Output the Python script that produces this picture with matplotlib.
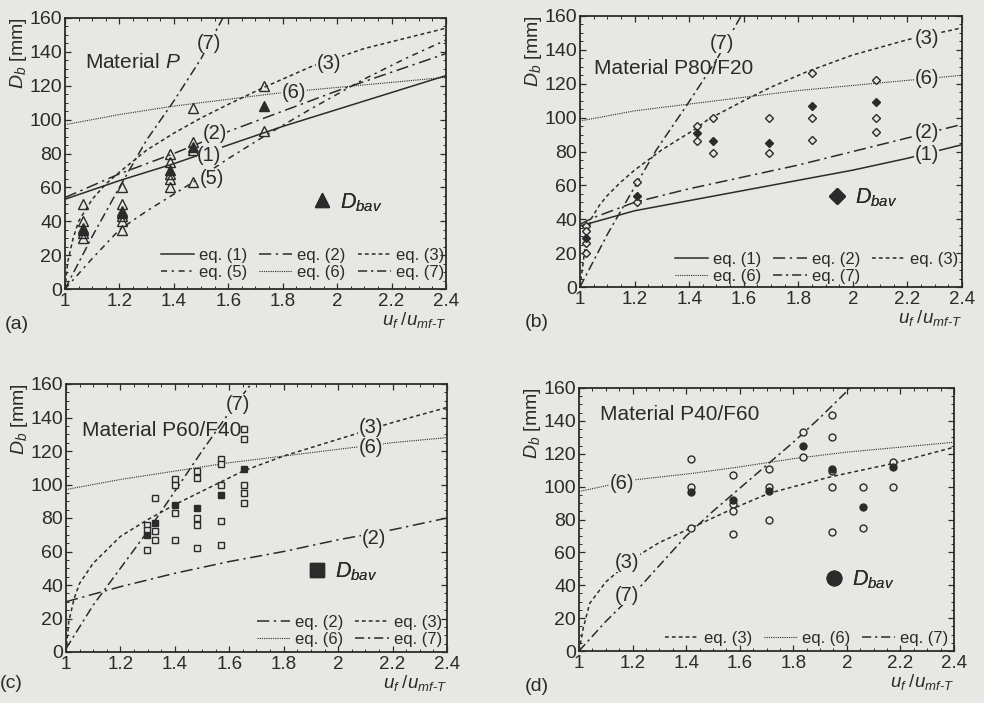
import matplotlib
matplotlib.use("Agg")
import matplotlib.pyplot as plt
from matplotlib.lines import Line2D
from matplotlib.ticker import AutoMinorLocator

plt.rcParams['font.family'] = ['Liberation Sans', 'DejaVu Sans']
plt.rcParams['mathtext.fontset'] = 'custom'
plt.rcParams['mathtext.rm'] = 'Liberation Sans'
plt.rcParams['mathtext.it'] = 'Liberation Sans:italic'
plt.rcParams['mathtext.bf'] = 'Liberation Sans:bold'

BG = '#e7e7e4'
INK = '#2b2b2b'

# ---------------- Panel (a): Material P ----------------
A_X_GRID = [1.0, 1.2, 1.4, 1.6, 1.8, 2.0, 2.2, 2.4]
A_EQ1 = [53, 64, 74, 85, 96, 106, 116, 126]
A_EQ2 = [54, 68, 80, 93, 105, 117, 128, 139]
A_EQ6 = [97, 103, 108, 112, 116, 119, 122, 125]
A_EQ3_X = [1.0, 1.01, 1.03, 1.05, 1.1, 1.15, 1.2, 1.3, 1.4, 1.5, 1.6, 1.73, 1.9, 2.1, 2.25, 2.4]
A_EQ3_Y = [0, 16, 30, 40, 53, 62, 69, 82, 92, 101, 109, 119, 131, 142, 148, 154]
A_EQ5_X = [1.0, 1.05, 1.1, 1.2, 1.3, 1.4, 1.47, 1.6, 1.73, 1.9, 2.1, 2.25, 2.4]
A_EQ5_Y = [0, 9, 18, 35, 46, 56, 63, 77, 90, 106, 124, 136, 147]
A_EQ7_X = [1.0, 1.1, 1.2, 1.3, 1.4, 1.5, 1.58]
A_EQ7_Y = [0, 31, 60, 88, 111, 136, 160]
A_OPEN_X = [1.067, 1.067, 1.067, 1.067, 1.067,
            1.208, 1.208, 1.208, 1.208, 1.208, 1.208,
            1.386, 1.386, 1.386, 1.386, 1.386,
            1.47, 1.47, 1.47, 1.47,
            1.73, 1.73]
A_OPEN_Y = [50, 40, 36, 33, 30,
            60, 50, 46, 43, 40, 35,
            80, 75, 68, 65, 60,
            107, 87, 82, 63,
            120, 93]
A_BAV_X = [1.067, 1.208, 1.386, 1.47, 1.73]
A_BAV_Y = [35, 45, 70, 84, 108]

# ---------------- Panel (b): Material P80/F20 ----------------
B_X_GRID = [1.0, 1.2, 1.4, 1.6, 1.8, 2.0, 2.2, 2.4]
B_EQ1 = [36, 45, 51, 57, 63, 69, 76, 84]
B_EQ6 = [98, 104, 108, 112, 116, 119, 122, 125]
B_EQ2_X = [1.0, 1.05, 1.2, 1.4, 1.6, 1.8, 2.0, 2.2, 2.4]
B_EQ2_Y = [37, 41, 50, 58, 65, 72, 80, 88, 96]
B_EQ3_X = [1.0, 1.02, 1.04, 1.07, 1.1, 1.15, 1.2, 1.25, 1.3, 1.42, 1.47, 1.6, 1.7, 1.83, 2.0, 2.2, 2.4]
B_EQ3_Y = [0, 25, 40, 48, 54, 62, 69, 75, 81, 93, 99, 110, 118, 127, 137, 146, 153]
B_EQ7_X = [1.0, 1.1, 1.15, 1.2, 1.28, 1.39, 1.5, 1.59]
B_EQ7_Y = [0, 31, 45, 59, 81, 107, 134, 160]
B_OPEN_X = [1.022, 1.022, 1.022, 1.022,
            1.208, 1.208,
            1.429, 1.429,
            1.487, 1.487,
            1.693, 1.693,
            1.85, 1.85, 1.85,
            2.085, 2.085, 2.085]
B_OPEN_Y = [36, 33, 26, 20,
            62, 50,
            95, 86,
            99.5, 79,
            99.5, 79,
            126.5, 99.5, 87,
            122, 99.5, 91.5]
B_BAV_X = [1.022, 1.208, 1.429, 1.487, 1.693, 1.85, 2.085]
B_BAV_Y = [29, 54, 91, 86, 85, 107, 109]

# ---------------- Panel (c): Material P60/F40 ----------------
C_X_GRID = [1.0, 1.2, 1.4, 1.6, 1.8, 2.0, 2.2, 2.4]
C_EQ2 = [30, 39, 47, 54, 60, 67, 73, 80]
C_EQ6 = [97, 103, 108, 113, 117, 121, 125, 128]
C_EQ3_X = [1.0, 1.01, 1.03, 1.05, 1.1, 1.2, 1.3, 1.4, 1.5, 1.65, 1.8, 2.0, 2.2, 2.4]
C_EQ3_Y = [0, 18, 32, 41, 53, 69, 79, 88, 96, 108, 117, 127, 137, 146]
C_EQ7_X = [1.0, 1.1, 1.2, 1.3, 1.4, 1.5, 1.6, 1.68]
C_EQ7_Y = [2, 28, 50, 72, 96, 120, 143, 160]
C_OPEN_X = [1.298, 1.298, 1.298,
            1.328, 1.328, 1.328,
            1.40, 1.40, 1.40, 1.40,
            1.48, 1.48, 1.48, 1.48, 1.48,
            1.57, 1.57, 1.57, 1.57, 1.57,
            1.655, 1.655, 1.655, 1.655, 1.655]
C_OPEN_Y = [76, 73, 61,
            92, 72, 67,
            103, 100, 83, 67,
            108, 104, 80, 76, 62,
            115, 112, 100, 78, 64,
            133, 127, 100, 95, 89]
C_BAV_X = [1.298, 1.328, 1.40, 1.48, 1.57, 1.655]
C_BAV_Y = [70, 77, 88, 86, 94, 109]

# ---------------- Panel (d): Material P40/F60 ----------------
D_EQ6_X = [1.0, 1.2, 1.42, 1.6, 1.8, 2.0, 2.2, 2.4]
D_EQ6_Y = [97, 104, 108, 112, 117, 121, 124, 127]
D_EQ3_X = [1.0, 1.016, 1.04, 1.1, 1.2, 1.3, 1.42, 1.58, 1.71, 1.94, 2.17, 2.4]
D_EQ3_Y = [0, 14, 29, 42, 56, 66, 75, 87, 96, 106, 114, 124]
D_EQ7_X = [1.0, 1.1, 1.2, 1.3, 1.4, 1.5, 1.6, 1.7, 1.8, 1.9, 2.0, 2.01]
D_EQ7_Y = [0, 18, 34, 52, 70, 85, 99, 113, 127, 142, 158, 160]
D_OPEN_X = [1.417, 1.417, 1.417,
            1.576, 1.576, 1.576, 1.576,
            1.71, 1.71, 1.71,
            1.835, 1.835,
            1.943, 1.943, 1.943, 1.943, 1.943,
            2.06, 2.06,
            2.174, 2.174]
D_OPEN_Y = [117, 99.5, 74.6,
            107, 89.7, 85.4, 71,
            111, 99.5, 80,
            133.4, 118,
            143.5, 130, 109.6, 99.5, 72.3,
            99.5, 74.6,
            115, 99.5]
D_BAV_X = [1.417, 1.576, 1.71, 1.835, 1.943, 2.06, 2.174]
D_BAV_Y = [97, 91.7, 97.5, 125, 110.8, 87.5, 112]

X_TICKS = [1, 1.2, 1.4, 1.6, 1.8, 2, 2.2, 2.4]
X_TICK_LABELS = ['1', '1.2', '1.4', '1.6', '1.8', '2', '2.2', '2.4']
Y_TICKS = [0, 20, 40, 60, 80, 100, 120, 140, 160]

STYLES = {
    '1': dict(ls='-', lw=1.1),
    '2': dict(ls=(0, (8, 3, 1.5, 3)), lw=1.1),
    '3': dict(ls=(0, (2.5, 2)), lw=1.1),
    '5': dict(ls=(0, (4, 3, 1.5, 3)), lw=1.1),
    '6': dict(ls=(0, (1, 1)), lw=0.8),
    '7': dict(ls=(0, (6, 2.5, 1.5, 2.5)), lw=1.1),
}

fig = plt.figure(figsize=(9.84, 7.03), dpi=100, facecolor=BG)

positions = {
    'a': [65/984, 1-289/703, 381/984, 271/703],
    'b': [580/984, 1-287/703, 382/984, 271/703],
    'c': [66/984, 1-652/703, 381/984, 268/703],
    'd': [579/984, 1-651/703, 375/984, 263/703],
}


def setup(ax):
    ax.set_facecolor(BG)
    ax.set_xlim(1, 2.4)
    ax.set_ylim(0, 160)
    ax.set_xticks(X_TICKS)
    ax.set_xticklabels(X_TICK_LABELS)
    ax.set_yticks(Y_TICKS)
    ax.xaxis.set_minor_locator(AutoMinorLocator(4))
    ax.yaxis.set_minor_locator(AutoMinorLocator(4))
    ax.tick_params(which='both', direction='in', top=True, right=True, colors=INK,
                   labelsize=14, labelcolor=INK)
    ax.tick_params(which='major', length=4, width=0.9)
    ax.tick_params(which='minor', length=2, width=0.7)
    ax.tick_params(axis='x', pad=3, labelsize=13.5)
    ax.tick_params(axis='y', pad=2)
    for s in ax.spines.values():
        s.set_color(INK)
        s.set_linewidth(1.3)
    ax.set_ylabel(r'$D_b$ [mm]', loc='top', fontsize=14, color=INK, labelpad=0)
    ax.set_xlabel(r'$u_f\;/u_{mf\text{-}T}$', loc='right', fontsize=13.5, color=INK, labelpad=0)


def curve(ax, x, y, eq):
    ax.plot(x, y, color=INK, **STYLES[eq], label='eq. (%s)' % eq, zorder=2)


def tag(ax, x, y, s):
    ax.text(x, y, s, fontsize=14.5, color=INK, ha='center', va='center', zorder=3,
            bbox=dict(facecolor=BG, edgecolor='none', pad=0.3))


def eq_legend(ax, order, ncol, anchor):
    handles = [Line2D([0], [0], color=INK, **STYLES[e]) for e in order]
    labels = ['eq. (%s)' % e for e in order]
    leg = ax.legend(handles, labels, ncol=ncol, loc='lower right', bbox_to_anchor=anchor,
                    frameon=False, fontsize=12, handlelength=2.0, handletextpad=0.3,
                    columnspacing=0.7, labelspacing=0.1, borderaxespad=0, borderpad=0)
    for t in leg.get_texts():
        t.set_color(INK)
    ax.add_artist(leg)


def bav_legend(ax, marker, ms, anchor):
    h = Line2D([0], [0], ls='none', marker=marker, ms=ms, color=INK, mfc=INK, mec=INK)
    leg = ax.legend([h], [r'$D_{bav}$'], loc='center left', bbox_to_anchor=anchor,
                    frameon=False, fontsize=15.5, handlelength=1.0, handletextpad=0.35,
                    borderaxespad=0, borderpad=0)
    for t in leg.get_texts():
        t.set_color(INK)
    ax.add_artist(leg)


def panel_letter(ax, x, y, s):
    ax.text(x, y, s, transform=ax.transAxes, fontsize=14, color=INK, ha='left', va='bottom')


# ---- (a)
ax = fig.add_axes(positions['a'])
setup(ax)
curve(ax, A_X_GRID, A_EQ1, '1')
curve(ax, A_X_GRID, A_EQ2, '2')
curve(ax, A_EQ3_X, A_EQ3_Y, '3')
curve(ax, A_EQ5_X, A_EQ5_Y, '5')
curve(ax, A_X_GRID, A_EQ6, '6')
curve(ax, A_EQ7_X, A_EQ7_Y, '7')
ax.plot(A_OPEN_X, A_OPEN_Y, ls='none', marker='^', ms=7, mfc='none', mec=INK, mew=1.0, zorder=4)
ax.plot(A_BAV_X, A_BAV_Y, ls='none', marker='^', ms=7, mfc=INK, mec=INK, zorder=5)
tag(ax, 1.53, 145, '(7)')
tag(ax, 1.97, 133, '(3)')
tag(ax, 1.84, 116, '(6)')
tag(ax, 1.55, 92, '(2)')
tag(ax, 1.53, 79, '(1)')
tag(ax, 1.54, 65, '(5)')
ax.text(1.075, 134, r'Material $P$', fontsize=15, color=INK, ha='left', va='center')
eq_legend(ax, ['1', '5', '2', '6', '3', '7'], 3, (0.995, 0.035))
bav_legend(ax, '^', 9.5, (0.645, 0.32))
panel_letter(ax, -0.157, -0.162, '(a)')

# ---- (b)
ax = fig.add_axes(positions['b'])
setup(ax)
curve(ax, B_X_GRID, B_EQ1, '1')
curve(ax, B_EQ2_X, B_EQ2_Y, '2')
curve(ax, B_EQ3_X, B_EQ3_Y, '3')
curve(ax, B_X_GRID, B_EQ6, '6')
curve(ax, B_EQ7_X, B_EQ7_Y, '7')
ax.plot(B_OPEN_X, B_OPEN_Y, ls='none', marker='D', ms=4.5, mfc=BG, mec=INK, mew=1.0, zorder=4)
ax.plot(B_BAV_X, B_BAV_Y, ls='none', marker='D', ms=4.5, mfc=INK, mec=INK, zorder=5)
tag(ax, 1.52, 144, '(7)')
tag(ax, 2.27, 147, '(3)')
tag(ax, 2.27, 123, '(6)')
tag(ax, 2.27, 91, '(2)')
tag(ax, 2.27, 78, '(1)')
ax.text(1.05, 129, 'Material P80/F20', fontsize=15, color=INK, ha='left', va='center')
eq_legend(ax, ['1', '6', '2', '7', '3'], 3, (0.99, 0.012))
bav_legend(ax, 'D', 8.5, (0.645, 0.33))
panel_letter(ax, -0.144, -0.162, '(b)')

# ---- (c)
ax = fig.add_axes(positions['c'])
setup(ax)
curve(ax, C_X_GRID, C_EQ2, '2')
curve(ax, C_EQ3_X, C_EQ3_Y, '3')
curve(ax, C_X_GRID, C_EQ6, '6')
curve(ax, C_EQ7_X, C_EQ7_Y, '7')
ax.plot(C_OPEN_X, C_OPEN_Y, ls='none', marker='s', ms=5, mfc=BG, mec=INK, mew=1.0, zorder=4)
ax.plot(C_BAV_X, C_BAV_Y, ls='none', marker='s', ms=5, mfc=INK, mec=INK, zorder=5)
tag(ax, 1.63, 148, '(7)')
tag(ax, 2.12, 134, '(3)')
tag(ax, 2.12, 122, '(6)')
tag(ax, 2.13, 68, '(2)')
ax.text(1.06, 132, 'Material P60/F40', fontsize=15, color=INK, ha='left', va='center')
eq_legend(ax, ['2', '6', '3', '7'], 2, (0.987, 0.02))
bav_legend(ax, 's', 9.5, (0.63, 0.30))
panel_letter(ax, -0.173, -0.151, '(c)')

# ---- (d)
ax = fig.add_axes(positions['d'])
setup(ax)
curve(ax, D_EQ3_X, D_EQ3_Y, '3')
curve(ax, D_EQ6_X, D_EQ6_Y, '6')
curve(ax, D_EQ7_X, D_EQ7_Y, '7')
ax.plot(D_OPEN_X, D_OPEN_Y, ls='none', marker='o', ms=5, mfc=BG, mec=INK, mew=1.0, zorder=4)
ax.plot(D_BAV_X, D_BAV_Y, ls='none', marker='o', ms=5, mfc=INK, mec=INK, zorder=5)
tag(ax, 1.16, 102, '(6)')
tag(ax, 1.18, 54, '(3)')
tag(ax, 1.18, 34, '(7)')
ax.text(1.08, 144, 'Material P40/F60', fontsize=15, color=INK, ha='left', va='center')
eq_legend(ax, ['3', '6', '7'], 3, (0.985, 0.02))
bav_legend(ax, 'o', 10.5, (0.65, 0.27))
panel_letter(ax, -0.144, -0.166, '(d)')

fig.savefig('out.png', dpi=100, facecolor=BG)
